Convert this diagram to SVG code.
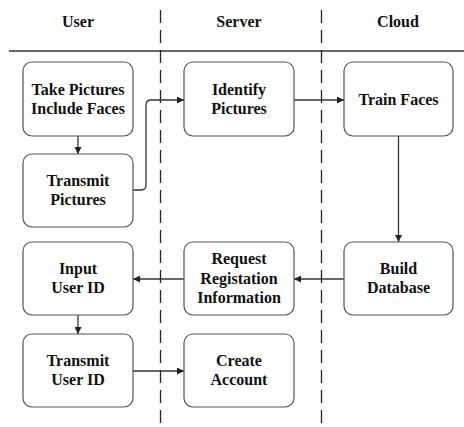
<svg xmlns="http://www.w3.org/2000/svg" width="464" height="427" viewBox="0 0 464 427">
  <style>
    .lane { stroke: #222; stroke-width: 1.3; stroke-dasharray: 13 7; fill: none; }
    .rule { stroke: #333; stroke-width: 1.3; fill: none; }
    .box { fill: #fff; stroke: #555; stroke-width: 1.2; }
    text { font-family: 'Liberation Serif', 'DejaVu Serif', serif; font-weight: bold; font-size: 16px; fill: #111; text-anchor: middle; }
    .edge { stroke: #333; stroke-width: 1.3; fill: none; marker-end: url(#ah); }
  </style>
  <defs>
    <marker id="ah" viewBox="0 0 10 10" refX="10" refY="5" markerWidth="7" markerHeight="7" markerUnits="userSpaceOnUse" orient="auto">
      <path d="M0,0 L10,5 L0,10 Z" fill="#222"/>
    </marker>
  </defs>
  <rect width="464" height="427" fill="#fff"/>

  <!-- swimlane headers and separators -->
  <g id="lanes" font-family="Liberation Serif, serif">
    <text x="78" y="27">User</text>
    <text x="239" y="27">Server</text>
    <text x="398" y="27">Cloud</text>
    <line class="rule" x1="9" y1="51" x2="464" y2="51"/>
    <line class="lane" x1="160.5" y1="10" x2="160.5" y2="427"/>
    <line class="lane" x1="321.5" y1="10" x2="321.5" y2="427"/>
  </g>

  <!-- connectors -->
  <g id="connectors">
    <line class="edge" x1="78" y1="136" x2="78" y2="154"/>
    <path class="edge" d="M133,190 H141 Q146,190 146,185 V105 Q146,100 151,100 H184"/>
    <line class="edge" x1="294" y1="100" x2="344" y2="100"/>
    <line class="edge" x1="398.5" y1="136" x2="398.5" y2="242"/>
    <line class="edge" x1="344" y1="279" x2="294" y2="279"/>
    <line class="edge" x1="184" y1="279" x2="133" y2="279"/>
    <line class="edge" x1="78" y1="315" x2="78" y2="334"/>
    <line class="edge" x1="133" y1="371" x2="184" y2="371"/>
  </g>

  <g id="take-pictures">
    <rect class="box" x="23" y="62" width="110" height="74" rx="9"/>
    <text x="78" y="95">Take Pictures</text>
    <text x="78" y="114">Include Faces</text>
  </g>
  <g id="transmit-pictures">
    <rect class="box" x="23" y="154" width="110" height="73" rx="9"/>
    <text x="78" y="186">Transmit</text>
    <text x="78" y="205">Pictures</text>
  </g>
  <g id="identify-pictures">
    <rect class="box" x="184" y="62" width="110" height="74" rx="9"/>
    <text x="239" y="95">Identify</text>
    <text x="239" y="114">Pictures</text>
  </g>
  <g id="train-faces">
    <rect class="box" x="344" y="62" width="109" height="74" rx="9"/>
    <text x="398.5" y="104.5">Train Faces</text>
  </g>
  <g id="build-database">
    <rect class="box" x="344" y="242" width="109" height="73" rx="9"/>
    <text x="398.5" y="274">Build</text>
    <text x="398.5" y="293">Database</text>
  </g>
  <g id="request-registration">
    <rect class="box" x="184" y="242" width="110" height="73" rx="9"/>
    <text x="239" y="264">Request</text>
    <text x="239" y="284">Registation</text>
    <text x="239" y="303">Information</text>
  </g>
  <g id="input-user-id">
    <rect class="box" x="23" y="242" width="110" height="73" rx="9"/>
    <text x="78" y="274">Input</text>
    <text x="78" y="293">User ID</text>
  </g>
  <g id="transmit-user-id">
    <rect class="box" x="23" y="334" width="110" height="73" rx="9"/>
    <text x="78" y="366">Transmit</text>
    <text x="78" y="385">User ID</text>
  </g>
  <g id="create-account">
    <rect class="box" x="184" y="334" width="110" height="73" rx="9"/>
    <text x="239" y="366">Create</text>
    <text x="239" y="385">Account</text>
  </g>
</svg>
